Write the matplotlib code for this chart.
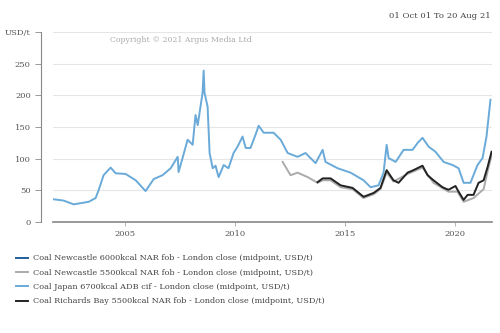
import matplotlib.pyplot as plt

# Japan 6700kcal ADB cif (USD/t), decimal years
japan_years = [2001.75, 2002.2, 2002.66, 2003.34, 2003.66, 2003.8, 2004.02, 2004.34, 2004.57,
               2005.02, 2005.48, 2005.93, 2006.3, 2006.7, 2007.07, 2007.39, 2007.43, 2007.61,
               2007.84, 2008.07, 2008.2, 2008.3, 2008.52, 2008.57, 2008.61, 2008.75, 2008.84,
               2008.98, 2009.11, 2009.25, 2009.48, 2009.7, 2009.93, 2010.11, 2010.34, 2010.48,
               2010.7, 2010.93, 2011.07, 2011.3, 2011.75, 2012.07, 2012.39, 2012.84, 2013.2,
               2013.66, 2013.98, 2014.11, 2014.66, 2015.25, 2015.84, 2016.16, 2016.52, 2016.75,
               2016.89, 2016.98, 2017.3, 2017.66, 2018.07, 2018.3, 2018.52, 2018.8, 2019.11,
               2019.48, 2019.89, 2020.16, 2020.39, 2020.7, 2021.02, 2021.25, 2021.43, 2021.61]
japan_vals = [36, 34, 28, 32, 38, 51, 74, 86, 77,
              76, 66, 49, 68, 74, 85, 103, 79, 101,
              130, 122, 169, 153, 204, 239, 204, 182, 109,
              85, 89, 71, 90, 85, 109, 119, 135, 117,
              117, 138, 152, 141, 141, 130, 109, 103, 109,
              93, 114, 95, 85, 78, 66, 55, 58, 78,
              122, 101, 95, 114, 114, 125, 133, 119, 111,
              95, 90, 85, 62, 62, 90, 101, 135, 193]

# Newcastle 5500kcal NAR fob
ncl5500_years = [2012.16, 2012.52, 2012.84, 2013.3, 2013.75, 2013.98, 2014.34, 2014.8, 2015.34,
                 2015.84, 2016.3, 2016.61, 2016.89, 2017.2, 2017.84, 2018.52, 2019.02, 2019.7,
                 2020.11, 2020.39, 2020.84, 2021.3, 2021.48, 2021.66]
ncl5500_vals = [95, 74, 78, 71, 62, 66, 66, 55, 52,
                38, 44, 52, 78, 64, 76, 86, 62, 48,
                48, 32, 38, 52, 80, 105]

# Richards Bay 5500kcal NAR fob
rb_years = [2013.75, 2013.98, 2014.34, 2014.8, 2015.34, 2015.84, 2016.3, 2016.61, 2016.89,
            2017.2, 2017.43, 2017.84, 2018.11, 2018.52, 2018.75, 2019.02, 2019.43, 2019.7,
            2020.02, 2020.11, 2020.39, 2020.57, 2020.84, 2021.07, 2021.3, 2021.48, 2021.66]
rb_vals = [63, 69, 69, 58, 54, 40, 46, 54, 82,
           66, 62, 78, 82, 89, 74, 66, 55, 51,
           57, 51, 35, 43, 43, 62, 66, 87, 111]

# Newcastle 6000kcal: no visible data in the chart
ncl6000_years = []
ncl6000_vals = []

labels = [
    "Coal Newcastle 6000kcal NAR fob - London close (midpoint, USD/t)",
    "Coal Newcastle 5500kcal NAR fob - London close (midpoint, USD/t)",
    "Coal Japan 6700kcal ADB cif - London close (midpoint, USD/t)",
    "Coal Richards Bay 5500kcal NAR fob - London close (midpoint, USD/t)",
]
y_ticks = [0, 50, 100, 150, 200, 250, 300]
y_labels = ["0", "50", "100", "150", "200", "250", "USD/t"]
x_ticks = [2005, 2010, 2015, 2020]

plt.rcParams['font.family'] = ['DejaVu Serif']
fig = plt.figure(figsize=(5, 3.33), dpi=100)
ax = fig.add_axes([0.106, 0.333, 0.878, 0.571])

ax.plot(ncl6000_years, ncl6000_vals, color="#1f5f9f", lw=1.4, label=labels[0])
ax.plot(ncl5500_years, ncl5500_vals, color="#ababab", lw=1.4, label=labels[1])
ax.plot(japan_years, japan_vals, color="#6aaad9", lw=1.4, label=labels[2])
ax.plot(rb_years, rb_vals, color="#222222", lw=1.4, label=labels[3])

ax.set_xlim(2001.72, 2021.68)
ax.set_ylim(0, 300)
ax.set_yticks(y_ticks)
ax.set_yticklabels(y_labels)
ax.set_xticks(x_ticks)
ax.set_xticklabels([str(x) for x in x_ticks])
ax.grid(axis='y', color="#e6e6e6", lw=0.8)
ax.set_axisbelow(True)

for s in ['top', 'right']:
    ax.spines[s].set_visible(False)
ax.spines['left'].set_position(('outward', 9))
ax.spines['left'].set_color("#888888")
ax.spines['left'].set_linewidth(0.8)
ax.spines['bottom'].set_color("#888888")
ax.spines['bottom'].set_linewidth(1.2)
ax.tick_params(axis='y', colors="#888888", labelcolor="#555555", labelsize=6.0, length=4, width=0.6, pad=3)
ax.tick_params(axis='x', colors="#aaaaaa", labelcolor="#555555", labelsize=6.0, length=3, width=0.6, pad=3)

fig.text(0.982, 0.952, "01 Oct 01 To 20 Aug 21", ha='right', va='center', fontsize=6.1, color="#444444")
ax.text(0.13, 0.96, "Copyright © 2021 Argus Media Ltd", transform=ax.transAxes,
        ha='left', va='center', fontsize=5.6, color="#aaaaaa")

fig.legend(loc='upper left', bbox_to_anchor=(0.032, 0.236), frameon=False, fontsize=5.85,
           handlelength=1.5, handletextpad=0.6, labelspacing=0.78, borderaxespad=0, borderpad=0,
           labelcolor="#444444")

plt.savefig("out.png", dpi=100)
